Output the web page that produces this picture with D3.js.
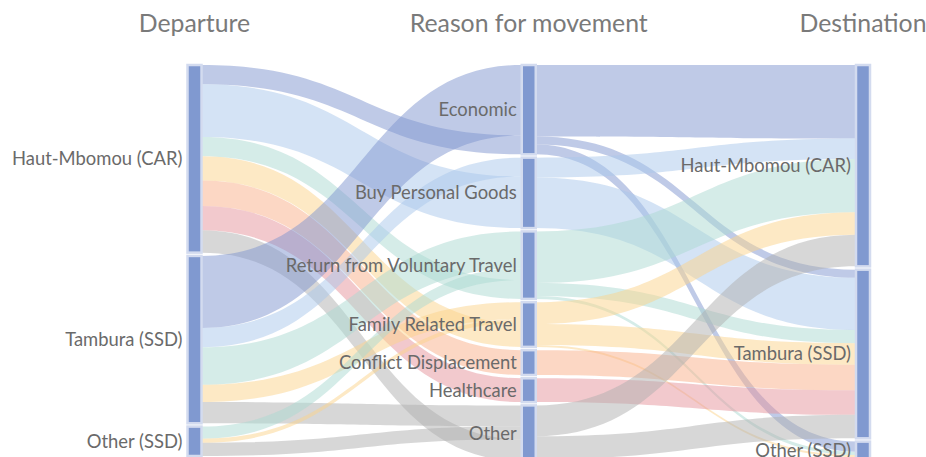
<!DOCTYPE html>
<html>
<head>
<meta charset="utf-8">
<script src="https://cdn.jsdelivr.net/npm/d3@7"></script>
<style>
  html, body { margin: 0; padding: 0; background: #fff; overflow: hidden; }
  svg { display: block; font-family: Lato, "Open Sans", sans-serif; }
</style>
</head>
<body>
<svg id="chart"></svg>
<script>
var columnTitles = ["Departure", "Reason for movement", "Destination"];
var departures = ["Haut-Mbomou (CAR)", "Tambura (SSD)", "Other (SSD)"];
var reasons = ["Economic", "Buy Personal Goods", "Return from Voluntary Travel",
    "Family Related Travel", "Conflict Displacement", "Healthcare", "Other"];
var destinations = ["Haut-Mbomou (CAR)", "Tambura (SSD)", "Other (SSD)"];

// rows: departure, columns: reason
var departureToReason = [
    [19, 52, 19, 24, 25, 24, 22],
    [71, 19, 37, 17, 0, 0, 21],
    [0, 0, 12, 4, 0, 0, 13]
];
// rows: reason, columns: destination
var reasonToDestination = [
    [72, 8, 10],
    [20, 51, 0],
    [52, 13, 3],
    [22, 21, 2],
    [0, 25, 0],
    [0, 24, 0],
    [31, 23, 2]
];

var reasonColors = ["rgba(127,150,208,0.5)", "rgba(170,200,236,0.5)", "rgba(171,217,209,0.5)",
    "rgba(251,211,139,0.5)", "rgba(249,175,137,0.5)", "rgba(229,147,155,0.5)", "rgba(176,176,176,0.5)"];

var cfg = {
    w: 926,
    h: 457,
    top: 65,
    bottom: [456, 461, 459], // per column, chart runs past the bottom edge
    pad: 3.3,
    nodeWidth: 14,
    arrivalOrder: [1, 2, 0] // order of departures stacked into each reason node
};

var svg = d3.select("#chart")
    .attr("width", cfg.w)
    .attr("height", cfg.h);

var colX = d3.scalePoint()
    .domain([0, 1, 2])
    .range([194.5, 863]);

// node values
var depValues = departureToReason.map(r => d3.sum(r));
var reasonIn = reasons.map((d, j) => d3.sum(departureToReason, r => r[j]));
var reasonOut = reasonToDestination.map(r => d3.sum(r));
var reasonValues = reasons.map((d, j) => Math.max(reasonIn[j], reasonOut[j]));
var destValues = destinations.map((d, k) => d3.sum(reasonToDestination, r => r[k]));

var columns = [
    { names: departures, values: depValues },
    { names: reasons, values: reasonValues },
    { names: destinations, values: destValues }
];

columns.forEach((col, c) => {
    var n = col.names.length;
    col.y = d3.scaleLinear()
        .domain([0, d3.sum(col.values)])
        .range([0, cfg.bottom[c] - cfg.top - (n - 1) * cfg.pad]);
    var y = cfg.top;
    col.nodes = col.names.map((name, i) => {
        var h = col.y(col.values[i]);
        var node = { name: name, col: c, y0: y, y1: y + h, outOff: y, inOff: y };
        y += h + cfg.pad;
        return node;
    });
});

var links = [];

// departure -> reason
departures.forEach((d, i) => {
    reasons.forEach((r, j) => {
        var v = departureToReason[i][j];
        if (v > 0) links.push({ s: columns[0].nodes[i], t: columns[1].nodes[j], v: v, color: reasonColors[j], si: i, tj: j });
    });
});
// source offsets: in target order
links.forEach(l => {
    var h = columns[0].y(l.v);
    l.sy0 = l.s.outOff; l.sy1 = l.sy0 + h; l.s.outOff = l.sy1;
});
// target offsets: in arrival order
reasons.forEach((r, j) => {
    cfg.arrivalOrder.forEach(i => {
        var l = links.find(k => k.si === i && k.tj === j);
        if (!l) return;
        var h = columns[1].y(l.v);
        l.ty0 = l.t.inOff; l.ty1 = l.ty0 + h; l.t.inOff = l.ty1;
    });
});

// reason -> destination
var links2 = [];
reasons.forEach((r, j) => {
    destinations.forEach((d, k) => {
        var v = reasonToDestination[j][k];
        if (v > 0) links2.push({ s: columns[1].nodes[j], t: columns[2].nodes[k], v: v, color: reasonColors[j] });
    });
});
links2.forEach(l => {
    var h = columns[1].y(l.v);
    l.sy0 = l.s.outOff; l.sy1 = l.sy0 + h; l.s.outOff = l.sy1;
});
destinations.forEach((d, k) => {
    links2.filter(l => l.t === columns[2].nodes[k]).forEach(l => {
        var h = columns[2].y(l.v);
        l.ty0 = l.t.inOff; l.ty1 = l.ty0 + h; l.t.inOff = l.ty1;
    });
});

links = links.concat(links2);

function ribbon(l) {
    var x0 = colX(l.s.col) + cfg.nodeWidth / 2,
        x1 = colX(l.t.col) - cfg.nodeWidth / 2,
        xm = (x0 + x1) / 2;
    var p = d3.path();
    p.moveTo(x0, l.sy0);
    p.bezierCurveTo(xm, l.sy0, xm, l.ty0, x1, l.ty0);
    p.lineTo(x1, l.ty1);
    p.bezierCurveTo(xm, l.ty1, xm, l.sy1, x0, l.sy1);
    p.closePath();
    return p.toString();
}

svg.append("g")
    .selectAll("path")
    .data(links)
    .enter()
    .append("path")
    .attr("d", ribbon)
    .style("fill", d => d.color);

var allNodes = columns[0].nodes.concat(columns[1].nodes, columns[2].nodes);

var node = svg.append("g")
    .selectAll("g")
    .data(allNodes)
    .enter()
    .append("g");

node.append("rect")
    .attr("x", d => colX(d.col) - cfg.nodeWidth / 2)
    .attr("y", d => d.y0)
    .attr("width", cfg.nodeWidth)
    .attr("height", d => Math.max(0, d.y1 - d.y0))
    .style("fill", "#8099d0")
    .style("stroke", "#d3dbef")
    .style("stroke-width", "2.5px");

node.append("text")
    .attr("x", d => colX(d.col) - cfg.nodeWidth / 2 - 5)
    .attr("y", d => (d.y0 + d.y1) / 2)
    .attr("dy", "0.35em")
    .attr("text-anchor", "end")
    .style("font-size", "18.4px")
    .style("fill", "#6a6a6a")
    .text(d => d.name);

svg.append("g")
    .selectAll("text")
    .data(columnTitles)
    .enter()
    .append("text")
    .attr("x", (d, i) => colX(i))
    .attr("y", 31.5)
    .attr("text-anchor", "middle")
    .style("font-size", "24.8px")
    .style("fill", "#7a7a7a")
    .text(d => d);
</script>
</body>
</html>
